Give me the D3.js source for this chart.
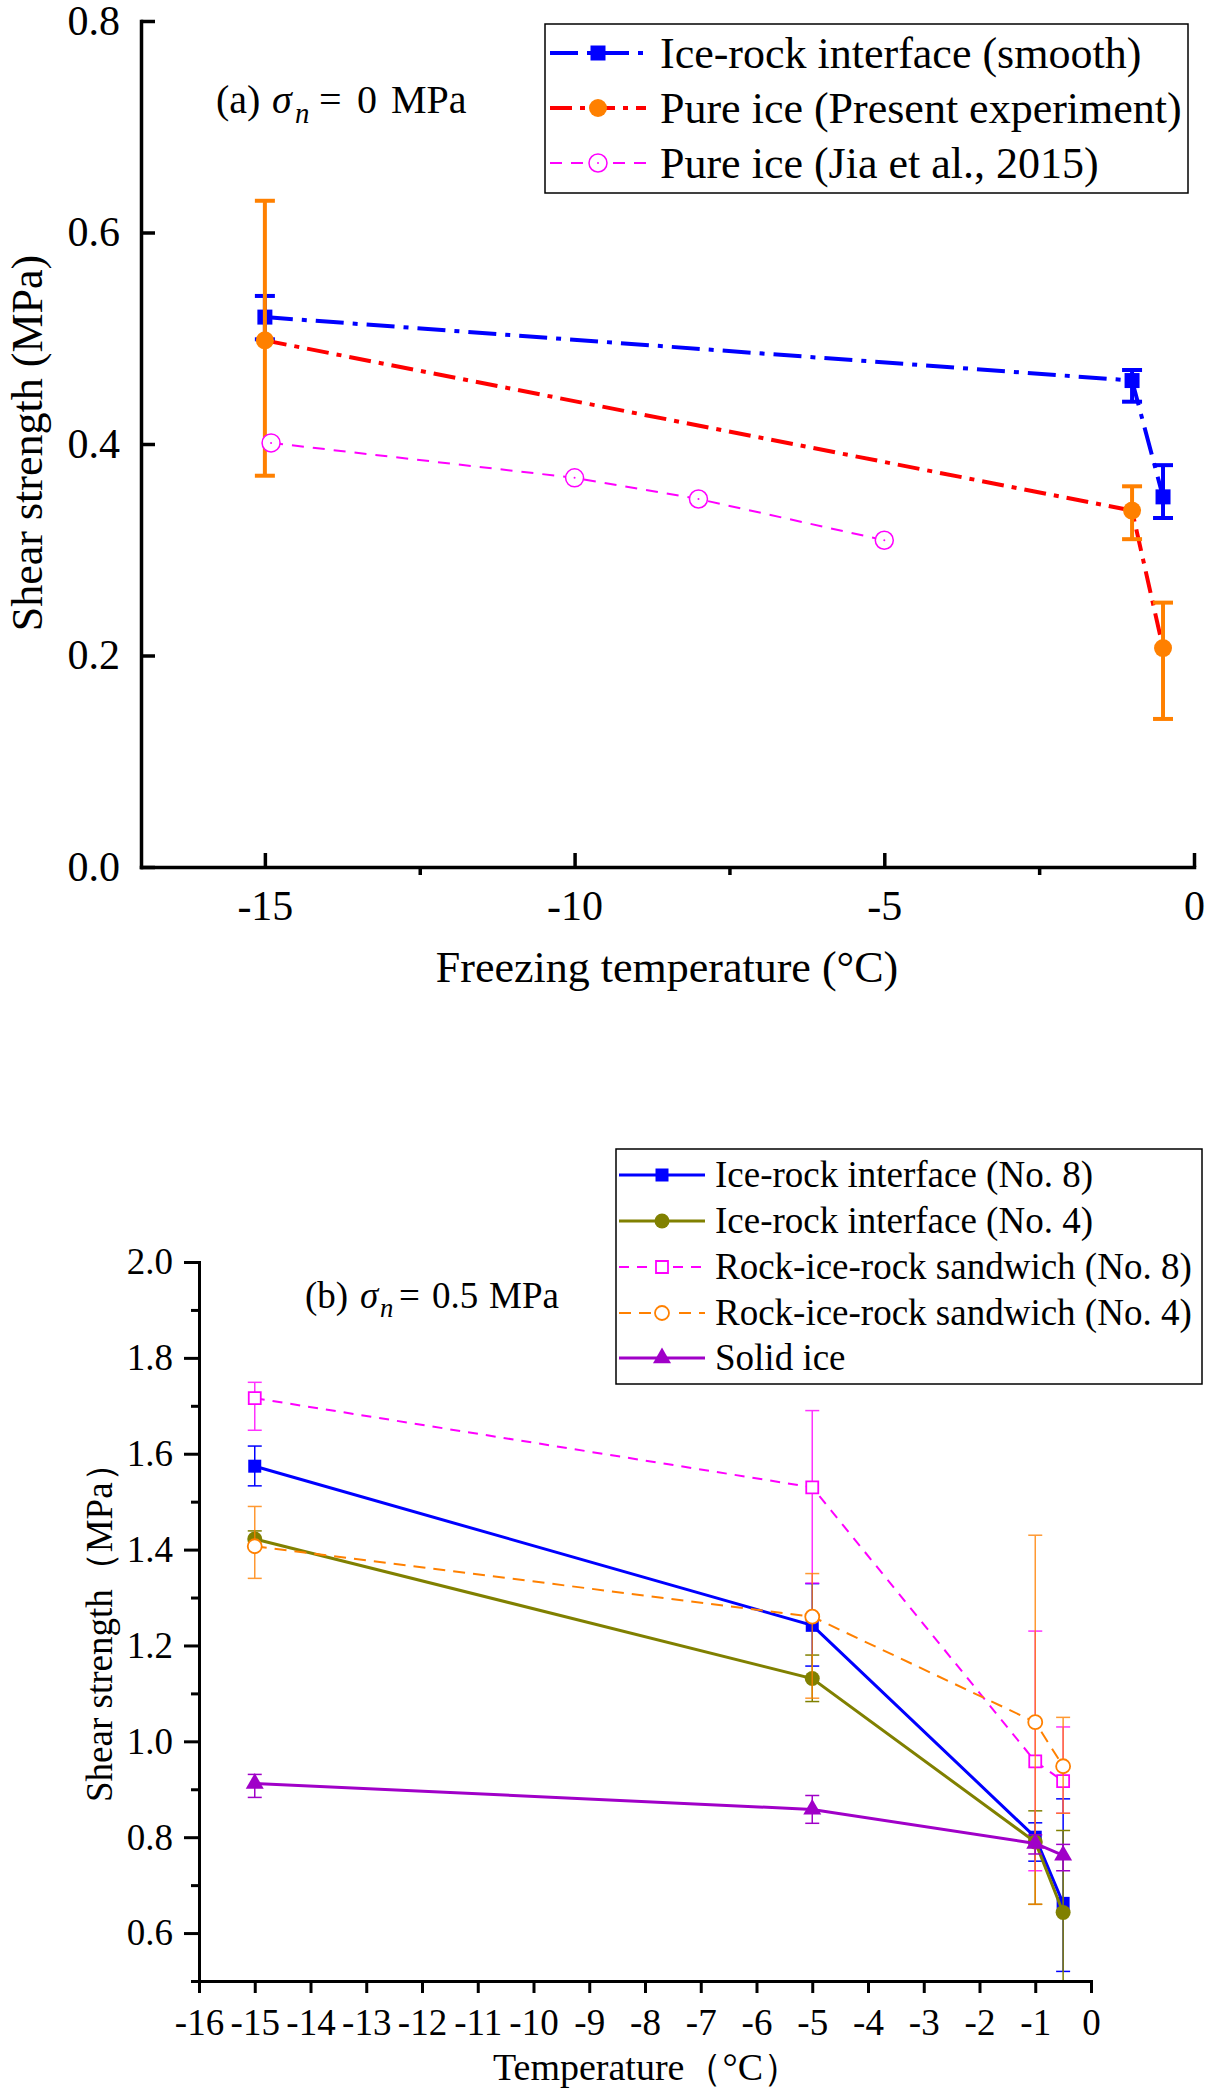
<!DOCTYPE html>
<html>
<head>
<meta charset="utf-8">
<script src="https://cdn.jsdelivr.net/npm/d3@7"></script>
<style>
  body { margin: 0; background: #fff; }
  svg { display: block; }
</style>
</head>
<body>
<script>
// clear any old drawing
d3.selectAll("body > svg").remove();

/*
 * Data, panel (a): sigma_n = 0 MPa
 */
const tempsSmooth = [-15, -1, -0.5];
const smoothVals = [0.52, 0.46, 0.35];
const smoothLow = [0.499, 0.44, 0.33];
const smoothHigh = [0.54, 0.47, 0.38];

const tempsPure = [-15, -1, -0.5];
const pureVals = [0.498, 0.337, 0.207];
const pureLow = [0.37, 0.31, 0.14];
const pureHigh = [0.63, 0.36, 0.25];

const tempsJia = [-14.9, -10, -8, -5];
const jiaVals = [0.401, 0.368, 0.348, 0.309];

const xTicksA = [-15, -10, -5, 0];
const xMinorA = [-12.5, -7.5, -2.5];
const yTicksA = [0, 0.2, 0.4, 0.6, 0.8];

/*
 * Data, panel (b): sigma_n = 0.5 MPa
 */
const tempsB = [-15, -5, -1, -0.5];
const no8Vals = [1.574, 1.242, 0.80, 0.662];
const no8Low = [1.533, 1.157, 0.75, 0.52];
const no8High = [1.616, 1.329, 0.83, 0.88];
const no4Vals = [1.422, 1.131, 0.79, 0.643];
const no4Low = [1.405, 1.083, 0.66, 0.47];
const no4High = [1.439, 1.18, 0.855, 0.814];
const sand8Vals = [1.716, 1.53, 0.958, 0.917];
const sand8Low = [1.649, 1.33, 0.73, 0.85];
const sand8High = [1.749, 1.69, 1.23, 1.03];
const sand4Vals = [1.407, 1.26, 1.04, 0.948];
const sand4Low = [1.34, 1.09, 0.66, 0.85];
const sand4High = [1.49, 1.35, 1.43, 1.05];
const solidVals = [0.912, 0.858, 0.787, 0.762];
const solidLow = [0.883, 0.829, 0.765, 0.73];
const solidHigh = [0.931, 0.887, 0.805, 0.785];

const xTicksB = [-16, -15, -14, -13, -12, -11, -10, -9, -8, -7, -6, -5, -4, -3, -2, -1, 0];
const yTicksB = [0.6, 0.8, 1.0, 1.2, 1.4, 1.6, 1.8, 2.0];
const yMinorB = [0.5, 0.7, 0.9, 1.1, 1.3, 1.5, 1.7, 1.9];

/*
 * Layout constants
 */
const SVG_WIDTH = 1210;
const SVG_HEIGHT = 2096;
const SERIF = '"Liberation Serif", "Times New Roman", serif';

const svg = d3.select("body").append("svg")
  .attr("width", SVG_WIDTH)
  .attr("height", SVG_HEIGHT);

svg.append("rect").attr("width", SVG_WIDTH).attr("height", SVG_HEIGHT).attr("fill", "#fff");

function styleAxis(g, width, fontSize) {
  g.attr("font-family", SERIF).attr("font-size", fontSize);
  g.selectAll(".domain").attr("stroke", "#000").attr("stroke-width", width).attr("stroke-linecap", "square");
  g.selectAll(".tick line").attr("stroke", "#000").attr("stroke-width", width);
  g.selectAll(".tick text").attr("fill", "#000");
}

function drawMarker(g, shape, x, y, size, fill, stroke, strokeWidth) {
  if (shape === "circle" || shape === "dotcircle") {
    g.append("circle").attr("cx", x).attr("cy", y).attr("r", size / 2)
      .attr("fill", fill).attr("stroke", stroke).attr("stroke-width", strokeWidth);
    if (shape === "dotcircle") {
      g.append("circle").attr("cx", x).attr("cy", y).attr("r", 1).attr("fill", stroke);
    }
  } else {
    const type = shape === "square" ? d3.symbolSquare : d3.symbolTriangle;
    const area = shape === "square" ? size * size : Math.sqrt(3) / 4 * size * size;
    g.append("path")
      .attr("d", d3.symbol().type(type).size(area)())
      .attr("transform", `translate(${x},${y})`)
      .attr("fill", fill).attr("stroke", stroke).attr("stroke-width", strokeWidth);
  }
}

function drawSeries(g, xs, ys, opts, x, y) {
  const pts = xs.map((t, i) => [x(t), y(ys[i])]);
  g.append("path")
    .attr("d", d3.line()(pts))
    .attr("fill", "none")
    .attr("stroke", opts.line)
    .attr("stroke-width", opts.lineWidth)
    .attr("stroke-dasharray", opts.dash || null);

  if (opts.low) {
    xs.forEach((t, i) => {
      const cx = x(t);
      const eb = g.append("g").attr("stroke", opts.errColor).attr("stroke-width", opts.errWidth)
        .attr("opacity", opts.errOpacity || 1);
      eb.append("line").attr("x1", cx).attr("x2", cx).attr("y1", y(opts.low[i])).attr("y2", y(opts.high[i]));
      [opts.low[i], opts.high[i]].forEach(v => {
        eb.append("line").attr("x1", cx - opts.cap / 2).attr("x2", cx + opts.cap / 2)
          .attr("y1", y(v)).attr("y2", y(v));
      });
    });
  }

  pts.forEach(p => drawMarker(g, opts.shape, p[0], p[1], opts.size, opts.fill, opts.stroke, opts.markerStroke));
}

function drawLegend(g, box, entries, fontSize, rowY, lineX, textX) {
  g.append("rect")
    .attr("x", box[0]).attr("y", box[1]).attr("width", box[2]).attr("height", box[3])
    .attr("fill", "#fff").attr("stroke", "#000").attr("stroke-width", 1.5);
  entries.forEach((e, i) => {
    const yy = rowY[i];
    g.append("line")
      .attr("x1", lineX[0]).attr("x2", lineX[1]).attr("y1", yy).attr("y2", yy)
      .attr("stroke", e.line).attr("stroke-width", e.lineWidth)
      .attr("stroke-dasharray", e.dash || null);
    const mx = (lineX[0] + lineX[1]) / 2;
    if (e.gap) {
      g.append("rect").attr("x", mx - e.size / 2 - 4).attr("y", yy - e.size / 2).attr("width", e.size + 8)
        .attr("height", e.size).attr("fill", "#fff");
    }
    drawMarker(g, e.shape, mx, yy, e.size, e.fill, e.stroke, e.markerStroke);
    g.append("text")
      .attr("x", textX).attr("y", yy + fontSize * 0.33)
      .attr("font-family", SERIF).attr("font-size", fontSize)
      .attr("fill", "#000")
      .text(e.label);
  });
}

function drawSigmaLabel(g, parts, baseline, fontSize) {
  const t = g.append("text")
    .attr("font-family", SERIF).attr("font-size", fontSize).attr("fill", "#000");
  parts.forEach(p => {
    t.append("tspan")
      .attr("x", p.x)
      .attr("y", baseline + (p.sub ? fontSize * 0.24 : 0))
      .attr("font-style", p.italic ? "italic" : null)
      .attr("font-size", p.sub ? fontSize * 0.72 : null)
      .text(p.text);
  });
}

/*
 * Panel (a)
 */
function drawPanelA() {
  const x = d3.scaleLinear().domain([-17, 0]).range([141, 1194]);
  const y = d3.scaleLinear().domain([0, 0.8]).range([867, 21]);
  const g = svg.append("g");

  const smooth = {
    line: "#0000ff", lineWidth: 4, dash: "28,9,5,9",
    shape: "square", size: 15, fill: "#0000ff", stroke: "#0000ff", markerStroke: 0,
    low: smoothLow, high: smoothHigh, errColor: "#0000ff", errWidth: 4, cap: 20
  };
  const pure = {
    line: "#ff0000", lineWidth: 4, dash: "22,8,5,8",
    shape: "circle", size: 18, fill: "#ff8000", stroke: "#ff8000", markerStroke: 0,
    low: pureLow, high: pureHigh, errColor: "#ff8000", errWidth: 4, cap: 20
  };
  const jia = {
    line: "#ff00ff", lineWidth: 2, dash: "12,9",
    shape: "dotcircle", size: 18, fill: "#fff", stroke: "#ff00ff", markerStroke: 1.5
  };

  drawSeries(g, tempsSmooth, smoothVals, smooth, x, y);
  drawSeries(g, tempsPure, pureVals, pure, x, y);
  drawSeries(g, tempsJia, jiaVals, jia, x, y);

  // axes
  const yAxis = g.append("g").attr("transform", "translate(141,0)")
    .call(d3.axisLeft(y).tickValues(yTicksA).tickSize(-14).tickSizeOuter(0).tickPadding(21)
      .tickFormat(d3.format(".1f")));
  styleAxis(yAxis, 3.5, 42);

  const xAxis = g.append("g").attr("transform", "translate(0,867)")
    .call(d3.axisBottom(x).tickValues(xTicksA).tickSize(-14).tickSizeOuter(0).tickPadding(23)
      .tickFormat(d => String(d)));
  styleAxis(xAxis, 3.5, 42);

  const xMinor = g.append("g").attr("transform", "translate(0,867)")
    .call(d3.axisBottom(x).tickValues(xMinorA).tickSize(8).tickSizeOuter(0).tickFormat(""));
  xMinor.select(".domain").remove();
  styleAxis(xMinor, 3.5, 42);

  // axis titles
  g.append("text")
    .attr("x", 667).attr("y", 982)
    .attr("text-anchor", "middle")
    .attr("font-family", SERIF).attr("font-size", 44)
    .text("Freezing temperature (°C)");
  g.append("text")
    .attr("transform", "translate(42,443) rotate(-90)")
    .attr("text-anchor", "middle")
    .attr("font-family", SERIF).attr("font-size", 44)
    .text("Shear strength (MPa)");

  drawSigmaLabel(g, [
    { text: "(a)", x: 216 },
    { text: "σ", x: 272, italic: true },
    { text: "n", x: 295, italic: true, sub: true },
    { text: "=", x: 319 },
    { text: "0", x: 357 },
    { text: "MPa", x: 391 }
  ], 113, 40);

  drawLegend(g, [545, 24, 643, 169], [
    Object.assign({ label: "Ice-rock interface (smooth)", gap: false }, smooth),
    Object.assign({ label: "Pure ice (Present experiment)", gap: false }, pure),
    Object.assign({ label: "Pure ice (Jia et al., 2015)", gap: false }, jia)
  ], 44, [53, 108, 163], [550, 646], 660);
}

/*
 * Panel (b)
 */
function drawPanelB() {
  const x = d3.scaleLinear().domain([-16, 0]).range([199, 1091]);
  const y = d3.scaleLinear().domain([0.5, 2.0]).range([1981, 1262]);
  const g = svg.append("g");

  svg.append("clipPath").attr("id", "clipB")
    .append("rect").attr("x", 199).attr("y", 1262).attr("width", 892).attr("height", 719);
  const plot = g.append("g").attr("clip-path", "url(#clipB)");

  const no8 = {
    line: "#0000ff", lineWidth: 3,
    shape: "square", size: 13, fill: "#0000ff", stroke: "#0000ff", markerStroke: 0,
    low: no8Low, high: no8High, errColor: "#0000ff", errWidth: 1.5, cap: 14
  };
  const no4 = {
    line: "#808000", lineWidth: 3,
    shape: "circle", size: 15, fill: "#808000", stroke: "#808000", markerStroke: 0,
    low: no4Low, high: no4High, errColor: "#808000", errWidth: 1.5, cap: 14
  };
  const sand8 = {
    line: "#ff00ff", lineWidth: 2, dash: "10,8",
    shape: "square", size: 12, fill: "#fff", stroke: "#ff00ff", markerStroke: 1.8,
    low: sand8Low, high: sand8High, errColor: "#ff00ff", errWidth: 1.5, cap: 14, errOpacity: 0.8
  };
  const sand4 = {
    line: "#ff8000", lineWidth: 2, dash: "12,8",
    shape: "circle", size: 14, fill: "#fff", stroke: "#ff8000", markerStroke: 1.8,
    low: sand4Low, high: sand4High, errColor: "#ff8000", errWidth: 1.5, cap: 14, errOpacity: 0.8
  };
  const solid = {
    line: "#a000c8", lineWidth: 3,
    shape: "triangle", size: 18, fill: "#a000c8", stroke: "#a000c8", markerStroke: 0,
    low: solidLow, high: solidHigh, errColor: "#a000c8", errWidth: 1.5, cap: 14
  };

  drawSeries(plot, tempsB, no8Vals, no8, x, y);
  drawSeries(plot, tempsB, no4Vals, no4, x, y);
  drawSeries(plot, tempsB, sand8Vals, sand8, x, y);
  drawSeries(plot, tempsB, sand4Vals, sand4, x, y);
  drawSeries(plot, tempsB, solidVals, solid, x, y);

  // axes
  const yAxis = g.append("g").attr("transform", "translate(199,0)")
    .call(d3.axisLeft(y).tickValues(yTicksB).tickSize(15).tickSizeOuter(0).tickPadding(11)
      .tickFormat(d3.format(".1f")));
  styleAxis(yAxis, 3, 37);
  const yMinor = g.append("g").attr("transform", "translate(199,0)")
    .call(d3.axisLeft(y).tickValues(yMinorB).tickSize(8).tickSizeOuter(0).tickFormat(""));
  yMinor.select(".domain").remove();
  styleAxis(yMinor, 3, 37);

  const xAxis = g.append("g").attr("transform", "translate(0,1981)")
    .call(d3.axisBottom(x).tickValues(xTicksB).tickSize(12).tickSizeOuter(0).tickPadding(16)
      .tickFormat(d => String(d)));
  styleAxis(xAxis, 3, 37);

  // axis titles
  g.append("text")
    .attr("x", 493).attr("y", 2080)
    .attr("font-family", SERIF).attr("font-size", 38)
    .text("Temperature（°C）");
  g.append("text")
    .attr("transform", "translate(112,1802) rotate(-90)")
    .attr("font-family", SERIF).attr("font-size", 37)
    .text("Shear strength（MPa）");

  drawSigmaLabel(g, [
    { text: "(b)", x: 305 },
    { text: "σ", x: 360, italic: true },
    { text: "n", x: 380, italic: true, sub: true },
    { text: "=", x: 399 },
    { text: "0.5", x: 432 },
    { text: "MPa", x: 489 }
  ], 1308, 37);

  drawLegend(g, [616, 1149, 586, 235], [
    Object.assign({ label: "Ice-rock interface (No. 8)", gap: false }, no8),
    Object.assign({ label: "Ice-rock interface (No. 4)", gap: false }, no4),
    Object.assign({ label: "Rock-ice-rock sandwich (No. 8)", gap: true }, sand8),
    Object.assign({ label: "Rock-ice-rock sandwich (No. 4)", gap: true }, sand4),
    Object.assign({ label: "Solid ice", gap: false }, solid)
  ], 37, [1175, 1221, 1267, 1313, 1358], [619, 705], 715);
}

drawPanelA();
drawPanelB();
</script>
</body>
</html>
